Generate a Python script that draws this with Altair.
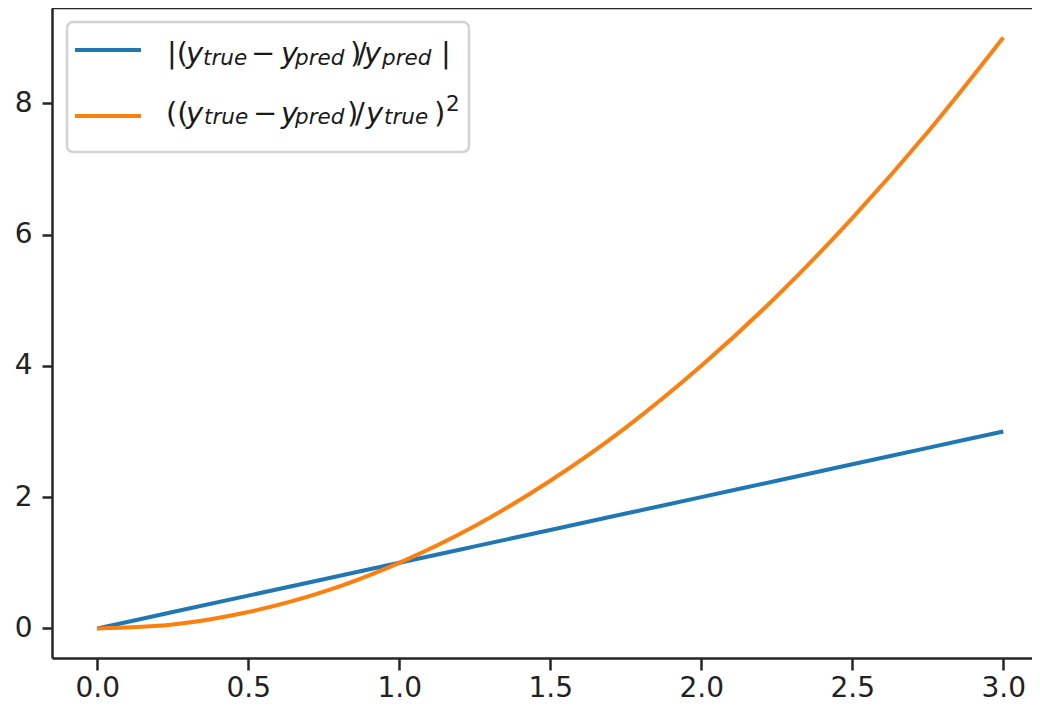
import altair as alt
import pandas as pd

# ---- data ----
X_VALUES = [0.0, 0.25, 0.5, 0.75, 1.0, 1.25, 1.5, 1.75, 2.0, 2.25, 2.5, 2.75, 3.0]
ABS_REL_ERR = [0.0, 0.25, 0.5, 0.75, 1.0, 1.25, 1.5, 1.75, 2.0, 2.25, 2.5, 2.75, 3.0]
SQ_REL_ERR = [0.0, 0.06, 0.25, 0.56, 1.0, 1.56, 2.25, 3.06, 4.0, 5.06, 6.25, 7.56, 9.0]
SERIES = ["abs", "sq"]
COLORS = ["#1f77b4", "#ff7f0e"]
X_TICKS = [0.0, 0.5, 1.0, 1.5, 2.0, 2.5, 3.0]
Y_TICKS = [0, 2, 4, 6, 8]

# legend label pieces (mathtext-like): (text, kind) kind: n=normal, i=italic, s=sub italic, p=superscript
LEGEND_LINE1 = [("|(", "n"), ("y", "i"), ("true", "s"), ("\u2212", "n"), ("y", "i"),
                ("pred", "s"), (")", "n"), ("/", "n"), ("y", "i"), ("pred", "s"), ("|", "n")]
LEGEND_LINE2 = [("((", "n"), ("y", "i"), ("true", "s"), ("\u2212", "n"), ("y", "i"),
                ("pred", "s"), (")", "n"), ("/", "n"), ("y", "i"), ("true", "s"), (")", "n"), ("2", "p")]

# ---- layout (pixel positions of legend pieces, style only) ----
LINE1_X = [115, 134, 151, 199, 229, 243, 298, 305, 312, 330, 389]
LINE2_X = [114, 134, 152, 201, 229, 243, 295, 303, 314, 332, 382, 394]
LINE1_BASE = {"n": 55, "i": 55, "s": 57, "p": 45}
LINE2_BASE = {"n": 115, "i": 115, "s": 116, "p": 103}

W, H = 980, 650
FONT = "DejaVu Sans"
SPINE = "#262626"

rows = []
for s, vals in zip(SERIES, [ABS_REL_ERR, SQ_REL_ERR]):
    for xv, yv in zip(X_VALUES, vals):
        rows.append({"x": xv, "y": yv, "series": s})
df = pd.DataFrame(rows)

lines = alt.Chart(df).mark_line(strokeWidth=4, interpolate="monotone").encode(
    x=alt.X("x:Q", scale=alt.Scale(domain=[-0.15, 3.095], nice=False, zero=False),
            axis=alt.Axis(values=X_TICKS, format=".1f", title=None, grid=False,
                          tickSize=12, labelPadding=4)),
    y=alt.Y("y:Q", scale=alt.Scale(domain=[-0.45, 9.45], nice=False, zero=False),
            axis=alt.Axis(values=Y_TICKS, format="d", title=None, grid=False,
                          tickSize=10, labelPadding=10)),
    color=alt.Color("series:N", scale=alt.Scale(domain=SERIES, range=COLORS), legend=None),
    order=alt.Order("x:Q"),
)

one = alt.Chart(alt.Data(values=[{"k": 0}]))

top_spine = one.mark_rule(color=SPINE, strokeWidth=2.5).encode(
    x=alt.value(0), x2=alt.value(W), y=alt.value(0))

legend_box = one.mark_rect(fill="white", fillOpacity=0.8, stroke="#d3d3d3",
                           strokeWidth=2.5, cornerRadius=6).encode(
    x=alt.value(15), x2=alt.value(417), y=alt.value(14), y2=alt.value(144))

handles = []
for col, yy in zip(COLORS, [42, 108]):
    handles.append(one.mark_rule(color=col, strokeWidth=4).encode(
        x=alt.value(23), x2=alt.value(89), y=alt.value(yy)))

texts = []
for parts, xs, base in [(LEGEND_LINE1, LINE1_X, LINE1_BASE), (LEGEND_LINE2, LINE2_X, LINE2_BASE)]:
    for (t, kind), px in zip(parts, xs):
        size = 29 if kind in ("n", "i") else 21.5
        style = "italic" if kind in ("i", "s") else "normal"
        texts.append(one.mark_text(text=t, font=FONT, fontSize=size, fontStyle=style,
                                   align="left", baseline="alphabetic", color="#1a1a1a").encode(
            x=alt.value(px), y=alt.value(base[kind])))

chart = alt.layer(lines, top_spine, legend_box, *handles, *texts).properties(
    width=W, height=H,
    padding={"left": 44, "top": 0, "right": 0, "bottom": 41},
    autosize=alt.AutoSizeParams(type="none"),
    background="white",
).configure_view(strokeWidth=0, stroke="transparent").configure_axis(
    domainColor=SPINE, domainWidth=2.5, tickColor=SPINE, tickWidth=2.5,
    labelFont=FONT, labelFontSize=28, labelColor="#222",
).configure_axisRight(domain=False, ticks=False, labels=False)

chart.save("out.html", embed_options={"renderer": "svg", "actions": False})
